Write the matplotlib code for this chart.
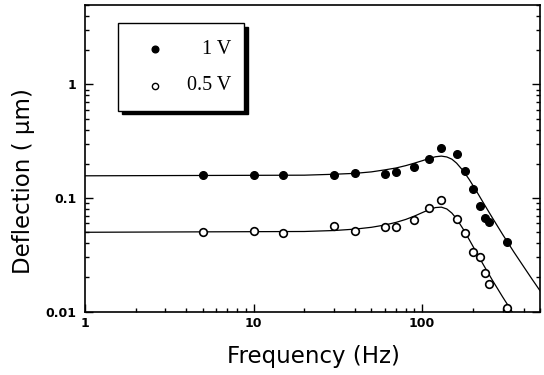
import matplotlib
matplotlib.use("Agg")
import matplotlib.pyplot as plt
from matplotlib.patches import Rectangle
from matplotlib.ticker import LogLocator, NullFormatter

# measured deflection points
freq_pts = [5, 10, 15, 30, 40, 60, 70, 90, 110, 130, 160, 180, 200, 220, 237, 248, 318]
defl_1v = [0.161, 0.158, 0.158, 0.160, 0.165, 0.163, 0.169, 0.187, 0.221, 0.278,
           0.245, 0.174, 0.121, 0.085, 0.067, 0.061, 0.041]
defl_05v = [0.0506, 0.0517, 0.0496, 0.0563, 0.0517, 0.0556, 0.0556, 0.0635, 0.081, 0.0955,
            0.065, 0.049, 0.0335, 0.0303, 0.022, 0.0174, 0.0108]

# fitted response curves
freq_fit_1v = [1, 20, 30, 40, 50, 60, 70, 80, 90, 100, 110, 120, 130, 140, 150, 160,
               175, 190, 210, 230, 260, 300, 350, 400, 450, 500]
fit_1v = [0.157, 0.159, 0.162, 0.165, 0.170, 0.177, 0.184, 0.193, 0.203, 0.213, 0.223,
          0.231, 0.234, 0.230, 0.220, 0.203, 0.174, 0.146, 0.115, 0.0915, 0.0676, 0.0479,
          0.0335, 0.0249, 0.0192, 0.0153]
freq_fit_05v = [1, 20, 30, 40, 50, 60, 70, 80, 90, 100, 110, 120, 130, 140, 150, 160,
                175, 190, 210, 230, 260, 300, 340, 360]
fit_05v = [0.050, 0.0508, 0.0518, 0.0533, 0.0553, 0.0579, 0.0611, 0.0649, 0.0694, 0.0744,
           0.0791, 0.0825, 0.0832, 0.0802, 0.0738, 0.0657, 0.0534, 0.0432, 0.0331, 0.0261,
           0.0191, 0.0135, 0.0101, 0.00884]

legend_labels = ["1 V", "0.5 V"]

fig = plt.figure(figsize=(5.44, 3.75), dpi=100)
ax = fig.add_axes([85/544, 1-311.7/375, 455/544, 306.7/375])

ax.plot(freq_fit_1v, fit_1v, color="black", lw=0.9)
ax.plot(freq_fit_05v, fit_05v, color="black", lw=0.9)
ax.plot(freq_pts, defl_1v, "o", color="black", ms=5.5)
ax.plot(freq_pts, defl_05v, "o", mfc="white", mec="black", mew=1.2, ms=5.5)

ax.set_xscale("log")
ax.set_yscale("log")
ax.set_xlim(1, 500)
ax.set_ylim(0.01, 5)

ax.set_xticks([1, 10, 100])
ax.set_xticklabels(["1", "10", "100"])
ax.set_yticks([0.01, 0.1, 1])
ax.set_yticklabels(["0.01", "0.1", "1"])
ax.xaxis.set_minor_locator(LogLocator(base=10, subs=range(2, 10)))
ax.yaxis.set_minor_locator(LogLocator(base=10, subs=range(2, 10)))
ax.xaxis.set_minor_formatter(NullFormatter())
ax.yaxis.set_minor_formatter(NullFormatter())

ax.tick_params(which="both", direction="in", right=True, top=False, width=1.0)
ax.tick_params(which="major", length=5.5)
ax.tick_params(which="minor", length=3)
ax.tick_params(axis="y", pad=6)
ax.tick_params(axis="x", pad=4)
for lab in ax.get_xticklabels() + ax.get_yticklabels():
    lab.set_fontweight("bold")
    lab.set_fontsize(9)
for sp in ax.spines.values():
    sp.set_linewidth(1.2)

# framed legend with a solid drop shadow
x0, y0, w, h = 0.0736, 0.656, 0.2748, 0.2853
ax.add_patch(Rectangle((x0 + 0.0088, y0 - 0.013), w, h, transform=ax.transAxes,
                       facecolor="black", edgecolor="black", zorder=5))
ax.add_patch(Rectangle((x0, y0), w, h, transform=ax.transAxes,
                       facecolor="white", edgecolor="black", lw=1.0, zorder=6))
ax.plot([0.154], [0.8556], "o", color="black", ms=4.8, transform=ax.transAxes, zorder=7)
ax.plot([0.154], [0.737], "o", mfc="white", mec="black", mew=1.0, ms=4.5,
        transform=ax.transAxes, zorder=7)
ax.text(0.322, 0.8556, legend_labels[0], transform=ax.transAxes, ha="right", va="center",
        family="Liberation Serif", fontsize=14.5, zorder=7)
ax.text(0.322, 0.737, legend_labels[1], transform=ax.transAxes, ha="right", va="center",
        family="Liberation Serif", fontsize=14.5, zorder=7)

fig.text(313/544, 1-356/375, "Frequency (Hz)", ha="center", va="center", fontsize=16.5)
fig.text(24/544, 1-181.5/375, "Deflection ( \u00b5m)", ha="center", va="center",
         rotation=90, fontsize=16.5)

fig.savefig("out.png", dpi=100)
